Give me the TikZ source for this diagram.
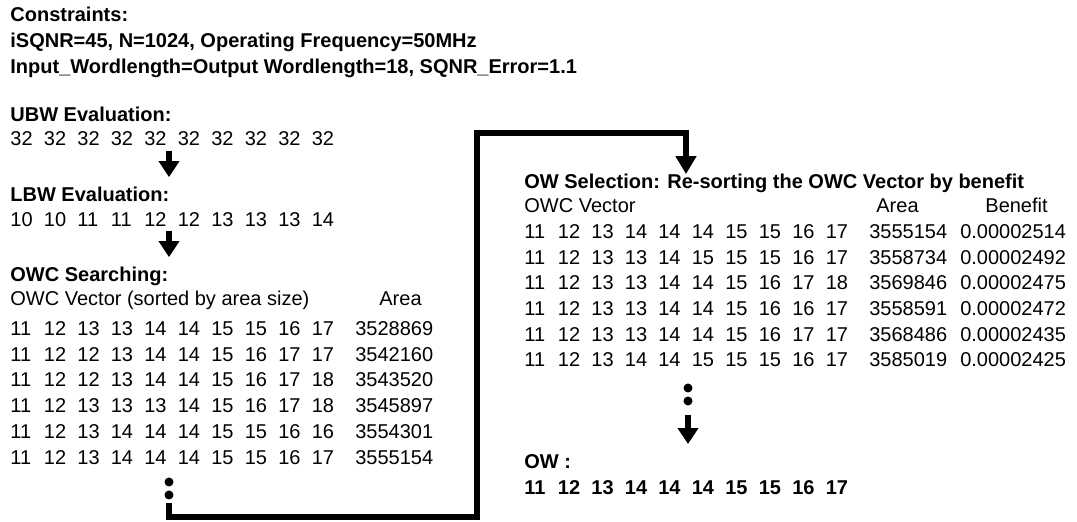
\documentclass[tikz,border=0pt]{standalone}
\usepackage{fontspec}
\setmainfont{Liberation Sans}
\usepackage{tikz}
\usetikzlibrary{arrows.meta, positioning}

% one row of ten word lengths, fixed column width
\newcommand{\owcrow}[1]{\foreach \w in {#1}{\makebox[16.75pt][l]{\w}}}
\newcommand{\owcarea}[1]{\hspace{5pt}\makebox[45.5pt][l]{#1}}

\begin{document}
\begin{tikzpicture}[
    x = 0.5pt, y = -0.5pt,
    head/.style = {anchor=base west, inner sep=0pt, font=\bfseries},
    row/.style = {anchor=base west, inner sep=0pt},
    dot/.style = {circle, fill, inner sep=0pt, minimum size=4.5pt},
    arrow/.style = {line width=3.2pt, -{Triangle[width=10pt, length=8pt]}},
    link/.style = {line width=3.2pt, -{Triangle[width=10pt, length=9pt]}}
]
    \useasboundingbox (0,0) rectangle (1077,522);

    % Constraints
    \node (cons) [head] at (10,22) {Constraints:};
    \node (cons1) [head] at (10,48) {iSQNR=45, N=1024, Operating Frequency=50MHz};
    \node (cons2) [head] at (10,74) {Input\_Wordlength=Output Wordlength=18, SQNR\_Error=1.1};

    % Left column
    \node (ubw) [head] at (10,122) {UBW Evaluation:};
    \node (ubwrow) [row] at (10,146) {\owcrow{32,32,32,32,32,32,32,32,32,32}};
    \node (lbw) [head] at (10,202) {LBW Evaluation:};
    \node (lbwrow) [row] at (10,227) {\owcrow{10,10,11,11,12,12,13,13,13,14}};
    \node (owcs) [head] at (10,282) {OWC Searching:};
    \node (owchdr) [row] at (10,306) {OWC Vector (sorted by area size)};
    \node (owcarea) [row] at (379,306) {Area};
    \node (owc1) [row] at (10,336) {\owcrow{11,12,13,13,14,14,15,15,16,17}\owcarea{3528869}};
    \node (owc2) [row] at (10,362) {\owcrow{11,12,12,13,14,14,15,16,17,17}\owcarea{3542160}};
    \node (owc3) [row] at (10,387) {\owcrow{11,12,12,13,14,14,15,16,17,18}\owcarea{3543520}};
    \node (owc4) [row] at (10,413) {\owcrow{11,12,13,13,13,14,15,16,17,18}\owcarea{3545897}};
    \node (owc5) [row] at (10,439) {\owcrow{11,12,13,14,14,14,15,15,16,16}\owcarea{3554301}};
    \node (owc6) [row] at (10,465) {\owcrow{11,12,13,14,14,14,15,15,16,17}\owcarea{3555154}};
    \node (owcdot1) [dot] at (169,482) {};
    \node (owcdot2) [dot] at (169,495) {};

    % Right column
    \node (sel) [head] at (524,189) {OW Selection: Re-sorting the OWC Vector by benefit};
    \node (selhdr) [row] at (524,213) {OWC Vector};
    \node (selarea) [row] at (876,213) {Area};
    \node (selben) [row] at (985,213) {Benefit};
    \node (sel1) [row] at (524,239) {\owcrow{11,12,13,14,14,14,15,15,16,17}\owcarea{3555154}0.00002514};
    \node (sel2) [row] at (524,265) {\owcrow{11,12,13,13,14,15,15,15,16,17}\owcarea{3558734}0.00002492};
    \node (sel3) [row] at (524,290) {\owcrow{11,12,13,13,14,14,15,16,17,18}\owcarea{3569846}0.00002475};
    \node (sel4) [row] at (524,316) {\owcrow{11,12,13,13,14,14,15,16,16,17}\owcarea{3558591}0.00002472};
    \node (sel5) [row] at (524,342) {\owcrow{11,12,13,13,14,14,15,16,17,17}\owcarea{3568486}0.00002435};
    \node (sel6) [row] at (524,367) {\owcrow{11,12,13,14,14,15,15,15,16,17}\owcarea{3585019}0.00002425};
    \node (seldot1) [dot] at (688,388) {};
    \node (seldot2) [dot] at (688,401) {};
    \node (ow) [head] at (524,469) {OW :};
    \node (owrow) [head] at (524,495) {\owcrow{11,12,13,14,14,14,15,15,16,17}};

    % Arrows
    \coordinate (bend1) at (477,517);
    \coordinate (bend2) at (686,133);
    \draw [arrow, shorten <=2pt, shorten >=5pt] (ubwrow.south -| owcdot1) -- (lbw.north -| owcdot1);
    \draw [arrow, shorten <=1.8pt, shorten >=5pt] (lbwrow.south -| owcdot1) -- (owcs.north -| owcdot1);
    \draw [link, shorten <=1.8pt] (owcdot2.south) |- (bend1) |- (bend2) -- (sel.north -| bend2);
    \draw [arrow, shorten <=4.5pt, shorten >=5.3pt] (seldot2.south) -- (ow.north -| seldot2);

\end{tikzpicture}
\end{document}
